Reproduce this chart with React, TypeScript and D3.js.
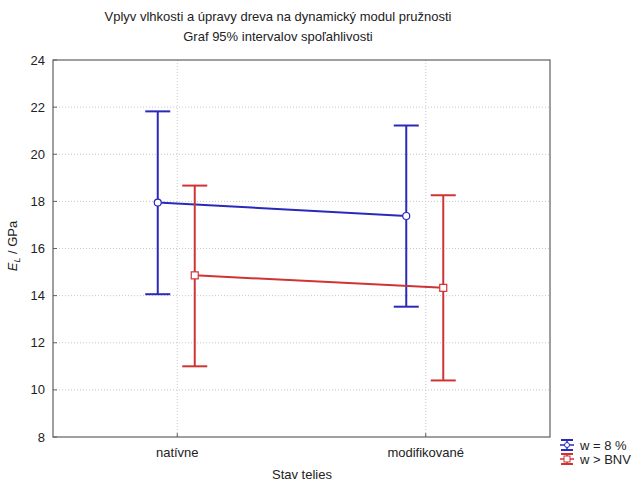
import React from 'react';
import * as d3 from 'd3';

const TITLE_LINES = ['Vplyv vlhkosti a úpravy dreva na dynamický modul pružnosti', 'Graf 95% intervalov spoľahlivosti'];
const CATEGORIES = ['natívne', 'modifikované'];
const SERIES_NAMES = ['w = 8 %', 'w > BNV'];
const SERIES_COLORS = ['#2a2ab8', '#cf3434'];
const MEANS_W8 = [17.95, 17.38];
const LOWER_W8 = [14.06, 13.53];
const UPPER_W8 = [21.82, 21.22];
const MEANS_BNV = [14.86, 14.33];
const LOWER_BNV = [11.0, 10.4];
const UPPER_BNV = [18.67, 18.26];
const Y_TICKS = [8, 10, 12, 14, 16, 18, 20, 22, 24];

const W = 644;
const H = 482;
const M = { left: 53, right: 94, top: 60, bottom: 45 };
const FONT = '"Liberation Sans", Arial, sans-serif';
const OFFSETS = [-19.5, 17.5];
const CAP = 25;

export default function App() {
  const x = d3.scalePoint<string>().domain(CATEGORIES).range([M.left, W - M.right]).padding(0.5);
  const y = d3.scaleLinear().domain([8, 24]).range([H - M.bottom, M.top]);
  const innerL = M.left;
  const innerR = W - M.right;
  const innerT = M.top;
  const innerB = H - M.bottom;

  const series = [
    { name: SERIES_NAMES[0], color: SERIES_COLORS[0], mean: MEANS_W8, lo: LOWER_W8, hi: UPPER_W8, marker: 'circle' },
    { name: SERIES_NAMES[1], color: SERIES_COLORS[1], mean: MEANS_BNV, lo: LOWER_BNV, hi: UPPER_BNV, marker: 'square' },
  ];

  const line = d3.line<[number, number]>().x((d) => d[0]).y((d) => d[1]);

  return (
    <svg width={W} height={H} style={{ position: 'absolute', left: 0, top: 0, background: '#fff' }} fontFamily={FONT}>
      {/* title */}
      {TITLE_LINES.map((t, i) => (
        <text key={i} x={278} y={21 + i * 20} textAnchor="middle" fontSize={13} fill="#222">{t}</text>
      ))}

      {/* grid */}
      {Y_TICKS.filter((t) => t > 8 && t < 24).map((t) => (
        <line key={t} x1={innerL} x2={innerR} y1={y(t)} y2={y(t)} stroke="#c8c8c8" strokeDasharray="1,2" />
      ))}
      {CATEGORIES.map((c) => (
        <line key={c} x1={x(c)} x2={x(c)} y1={innerT} y2={innerB} stroke="#c8c8c8" strokeDasharray="1,2" />
      ))}

      {/* frame */}
      <rect x={innerL} y={innerT} width={innerR - innerL} height={innerB - innerT} fill="none" stroke="#606060" strokeWidth={1.2} />

      {/* y ticks */}
      {Y_TICKS.map((t) => (
        <g key={t}>
          <line x1={innerL} x2={innerL + 4} y1={y(t)} y2={y(t)} stroke="#606060" />
          <text x={45} y={y(t)} dy="0.35em" textAnchor="end" fontSize={13} fill="#222">{t}</text>
        </g>
      ))}

      {/* x ticks */}
      {CATEGORIES.map((c) => (
        <g key={c}>
          <line x1={x(c)} x2={x(c)} y1={innerB} y2={innerB - 4} stroke="#606060" />
          <text x={x(c)} y={457} textAnchor="middle" fontSize={13} fill="#222">{c}</text>
        </g>
      ))}

      {/* axis titles */}
      <text x={302} y={479} textAnchor="middle" fontSize={13} fill="#222">Stav telies</text>
      <text transform={`translate(17,246) rotate(-90)`} textAnchor="middle" fontSize={13} fill="#222">
        <tspan fontStyle="italic">E</tspan>
        <tspan fontStyle="italic" fontSize={9} dy={3}>L</tspan>
        <tspan dy={-3}> / GPa</tspan>
      </text>

      {/* series */}
      {series.map((s, si) => {
        const pts: [number, number][] = CATEGORIES.map((c, i) => [(x(c) as number) + OFFSETS[si], y(s.mean[i])]);
        return (
          <g key={s.name}>
            <path d={line(pts) || ''} fill="none" stroke={s.color} strokeWidth={2} />
            {CATEGORIES.map((c, i) => {
              const cx = (x(c) as number) + OFFSETS[si];
              return (
                <g key={c}>
                  <line x1={cx} x2={cx} y1={y(s.hi[i])} y2={y(s.lo[i])} stroke={s.color} strokeWidth={2} />
                  <line x1={cx - CAP / 2} x2={cx + CAP / 2} y1={y(s.hi[i])} y2={y(s.hi[i])} stroke={s.color} strokeWidth={2} />
                  <line x1={cx - CAP / 2} x2={cx + CAP / 2} y1={y(s.lo[i])} y2={y(s.lo[i])} stroke={s.color} strokeWidth={2} />
                  {s.marker === 'circle' ? (
                    <circle cx={cx} cy={y(s.mean[i])} r={3.5} fill="#fff" stroke={s.color} strokeWidth={1.2} />
                  ) : (
                    <rect x={cx - 3.5} y={y(s.mean[i]) - 3.5} width={7} height={7} fill="#fff" stroke={s.color} strokeWidth={1.2} />
                  )}
                </g>
              );
            })}
          </g>
        );
      })}

      {/* legend */}
      {series.map((s, si) => {
        const cy = 445 + si * 14;
        const lx = 567;
        return (
          <g key={s.name}>
            <line x1={lx - 6} x2={lx + 6} y1={cy - 5} y2={cy - 5} stroke={s.color} strokeWidth={2} />
            <line x1={lx - 6} x2={lx + 6} y1={cy + 5} y2={cy + 5} stroke={s.color} strokeWidth={2} />
            <line x1={lx - 7} x2={lx + 7} y1={cy} y2={cy} stroke={s.color} strokeWidth={1.5} />
            <line x1={lx} x2={lx} y1={cy - 5} y2={cy + 5} stroke={s.color} strokeWidth={1.5} />
            {s.marker === 'circle' ? (
              <circle cx={lx} cy={cy} r={2.5} fill="#fff" stroke={s.color} />
            ) : (
              <rect x={lx - 3} y={cy - 3} width={6} height={6} fill="#fff" stroke={s.color} />
            )}
            <text x={580} y={cy} dy="0.35em" fontSize={13} fill="#222">{s.name}</text>
          </g>
        );
      })}
    </svg>
  );
}
